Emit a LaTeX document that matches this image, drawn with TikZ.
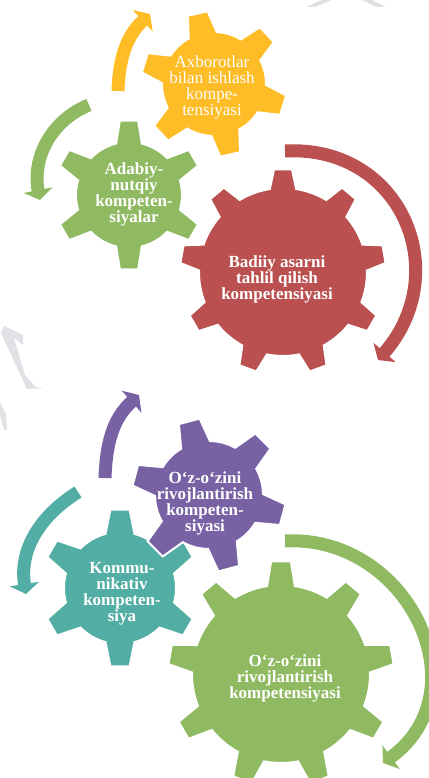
\documentclass[tikz,border=0pt]{standalone}
\usepackage{fontspec}
\setmainfont{Liberation Serif}
\usepackage{tikz}
\usetikzlibrary{arrows.meta}
\usetikzlibrary{calc}

\definecolor{gearyellow}{RGB}{254,188,38}
\definecolor{gearolive}{RGB}{143,186,97}
\definecolor{gearred}{RGB}{186,80,80}
\definecolor{gearpurple}{RGB}{120,98,164}
\definecolor{gearteal}{RGB}{82,174,164}
\definecolor{ghost}{RGB}{224,225,228}

\tikzset{
  geartext/.style={text=white, align=center, font=\bfseries\fontsize{17}{16}\selectfont, inner sep=0pt},
  bandarrow/.style={line width=13pt, -{Triangle[length=10pt,width=29pt]}},
  ghostmark/.style={fill=ghost}
}

% #1 centre, #2 body radius, #3 tip radius, #4 teeth, #5 first tooth angle, #6 base half angle, #7 tip half angle, #8 colour
\newcommand{\gearwheel}[8]{
  \pgfmathsetmacro{\gearstep}{360/#4}
  \fill[#8, draw=white, line width=2pt]
    (#1) ++(#5-#6:#2)
    \foreach \k in {1,...,#4} {
      \pgfextra{\pgfmathsetmacro{\a}{#5+(\k-1)*\gearstep}}
      -- ($(#1)+(\a-#7:#3)$) -- ($(#1)+(\a+#7:#3)$) -- ($(#1)+(\a+#6:#2)$)
      arc[start angle=\a+#6, end angle=\a+\gearstep-#6, radius=#2]
    } -- cycle;
}

\begin{document}
\begin{tikzpicture}[x=1pt,y=1pt]
\useasboundingbox (0,0) rectangle (428,778);
% faint marks of the page behind
\fill[ghostmark] (4,452) -- (23,443) -- (23,433) -- (14,440) -- (25,403) -- (36,391) -- (44,390) -- (27,389) -- (1,445) -- cycle;
\fill[ghostmark] (0,376) -- (6,363) -- (7,348) -- (4,348) -- (0,363) -- cycle;
\fill[ghostmark] (306,771) -- (315,771) -- (332,778) -- (322,778) -- cycle;
\fill[ghostmark] (362,778) -- (372,778) -- (386,771) -- (376,771) -- cycle;
% centres of the wheels
\coordinate (yellowc) at (214,694);
\coordinate (olivec) at (129,583);
\coordinate (redc) at (283,506);
\coordinate (purplec) at (209,283);
\coordinate (tealc) at (120,190);
\coordinate (bigc) at (281,104);
% ends of the arrows
\coordinate (yellowa) at (118,687);
\coordinate (yellowb) at (150,764);
\coordinate (olivea) at (89,673);
\coordinate (oliveb) at (40,578);
\coordinate (reda) at (285,627);
\coordinate (redb) at (378,418);
\coordinate (purplea) at (105,300);
\coordinate (purpleb) at (139,383);
\coordinate (teala) at (78,286);
\coordinate (tealb) at (26,184);
\coordinate (biga) at (285,237);
\coordinate (bigb) at (383,15);
% draws wheels
\gearwheel{olivec}{53}{75}{6}{90}{14}{7}{gearolive}
\gearwheel{yellowc}{52}{73}{6}{103}{16}{8}{gearyellow}
\gearwheel{redc}{84}{103}{9}{90}{9}{5}{gearred}
\gearwheel{tealc}{56}{79}{6}{90}{15}{7}{gearteal}
\gearwheel{purplec}{54}{77}{6}{105}{16}{8}{gearpurple}
\gearwheel{bigc}{89}{113}{9}{90}{9}{5}{gearolive}
% draws arrows
\draw[bandarrow, gearyellow] (yellowa) to[out=88,in=223] (yellowb);
\draw[bandarrow, gearolive] (olivea) to[out=202,in=101] (oliveb);
\draw[bandarrow, gearred] (reda) to[out=3,in=49,looseness=1.3] (redb);
\draw[bandarrow, gearpurple] (purplea) to[out=88,in=222] (purpleb);
\draw[bandarrow, gearteal] (teala) to[out=212,in=99] (tealb);
\draw[bandarrow, gearolive] (biga) to[out=3,in=36,looseness=1.3] (bigb);
% labels wheels
\node[geartext, font=\fontsize{17}{16}\selectfont] (yellowt) at (212,691) {Axborotlar\\bilan ishlash\\kompe-\\tensiyasi};
\node[geartext] (olivet) at (134,584) {Adabiy-\\nutqiy\\kompeten-\\siyalar};
\node[geartext] (redt) at (277,499) {Badiiy asarni\\tahlil qilish\\kompetensiyasi};
\node[geartext] (purplet) at (205,275) {O‘z-o‘zini\\rivojlantirish\\kompeten-\\siyasi};
\node[geartext] (tealt) at (122,184) {Kommu-\\nikativ\\kompeten-\\siya};
\node[geartext] (bigt) at (285,100) {O‘z-o‘zini\\rivojlantirish\\kompetensiyasi};
\end{tikzpicture}
\end{document}
